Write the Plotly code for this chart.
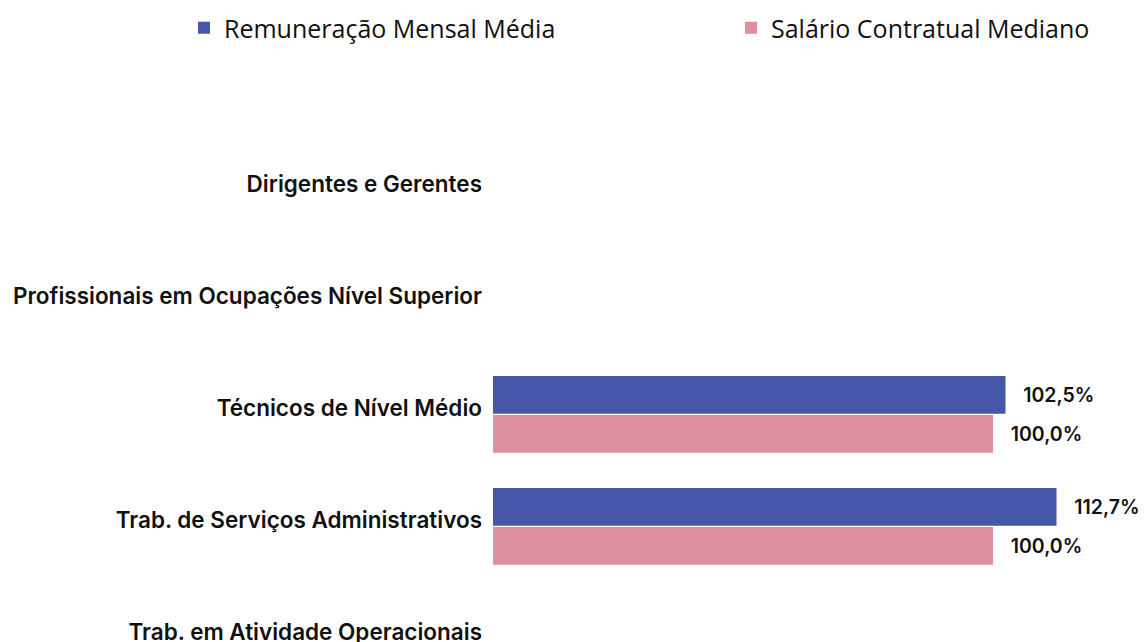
import plotly.graph_objects as go

categories = [
    "Dirigentes e Gerentes",
    "Profissionais em Ocupações Nível Superior",
    "Técnicos de Nível Médio",
    "Trab. de Serviços Administrativos",
    "Trab. em Atividade Operacionais",
]
remuneracao_media = [None, None, 102.5, 112.7, None]
salario_mediano = [None, None, 100.0, 100.0, None]

series_names = ["Remuneração Mensal Média", "Salário Contratual Mediano"]
series_colors = ["#4657a9", "#dc909f"]
series_legends = ["legend", "legend2"]

tick_font = dict(family="Inter", size=22.5, color="#111111", weight=600)
value_font = dict(family="Inter", size=19.5, color="#111111", weight=600)
legend_font = dict(family="Open Sans", size=25, color="#111111")

fig = go.Figure()
for name, vals, color, off, lg in zip(series_names,
                                      [remuneracao_media, salario_mediano],
                                      series_colors, [-0.286, 0.0625],
                                      series_legends):
    fig.add_trace(go.Bar(
        y=categories, x=vals, orientation="h", name=name,
        marker=dict(color=color, line=dict(width=0)),
        offset=off, width=0.337,
        texttemplate="   %{x:.1f}%", textposition="outside",
        textfont=value_font, cliponaxis=False, constraintext="none",
        hoverinfo="skip", legend=lg, showlegend=True,
    ))

legend_common = dict(
    orientation="h", xref="container", xanchor="left",
    y=1 - 5 / 642, yref="container", yanchor="top",
    font=legend_font, bgcolor="rgba(0,0,0,0)",
)

fig.update_layout(
    width=1146, height=642,
    barmode="overlay",
    separators=",.",
    paper_bgcolor="white", plot_bgcolor="white",
    margin=dict(l=493, r=3, t=128, b=0, autoexpand=False),
    legend=dict(x=184 / 1146, **legend_common),
    legend2=dict(x=731 / 1146, **legend_common),
    xaxis=dict(range=[0, 130], visible=False, fixedrange=True),
    yaxis=dict(
        type="category", categoryorder="array", categoryarray=categories,
        range=[4.089, -0.5],
        showgrid=False, zeroline=False, showline=False,
        ticks="", ticklabelstandoff=10,
        tickfont=tick_font,
    ),
)

fig.write_html(
    "out.html",
    config={"displayModeBar": False},
    post_script="document.body.style.margin='0';document.body.style.padding='0';",
)
